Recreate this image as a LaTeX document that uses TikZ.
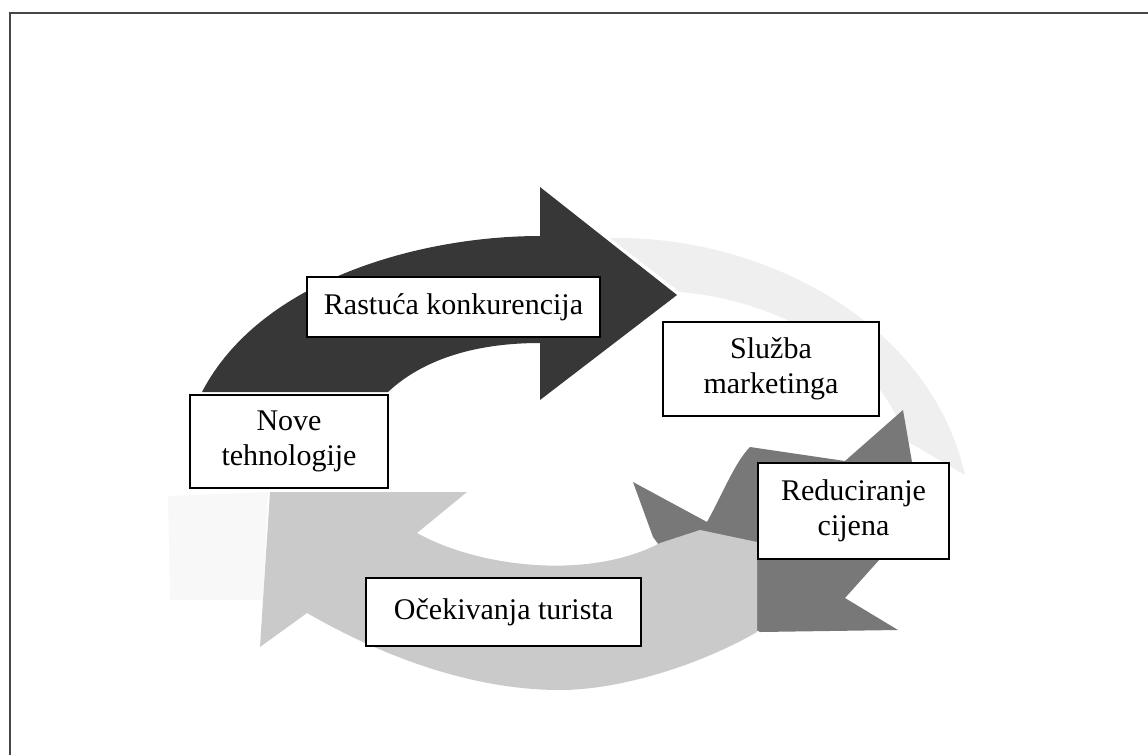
\documentclass[tikz,border=0pt]{standalone}
\usepackage{fontspec}
\setmainfont{Liberation Serif}
\usetikzlibrary{positioning}
\definecolor{arrowdark}{RGB}{55,55,55}
\definecolor{arrowmid}{RGB}{120,120,120}
\definecolor{arrowlight}{RGB}{202,202,202}
\definecolor{arrowfaint}{RGB}{239,239,239}
\definecolor{framegray}{RGB}{70,70,70}

\begin{document}
\begin{tikzpicture}[x=0.4pt, y=-0.4pt,
  box/.style={rectangle, draw=black, line width=0.6pt, fill=white, align=center,
              inner sep=1pt, font=\fontsize{12}{14}\selectfont}]
\useasboundingbox (0,0) rectangle (1148,755);
\draw[framegray, line width=0.8pt] (10,755) -- (10,13) -- (1148,13);

% faint arrow, top right
\fill[arrowfaint] (610,238) .. controls (760,235) and (930,320) .. (965,475)
  -- (905,440) .. controls (885,360) and (780,300) .. (680,292) -- cycle;
\fill[arrowfaint!45] (168,496) -- (268,492) -- (263,600) -- (170,600) -- cycle;

% medium arrow, right
\fill[arrowmid] (633,482) -- (707,522) .. controls (722,495) and (735,462) .. (750,447)
  -- (845,461) -- (903,410) -- (912,462) -- (915,510) -- (880,559) -- (845,598)
  -- (898,630) -- (760,632) -- (700,600) -- (653,537) -- cycle;

% light arrow, bottom
\fill[arrowlight] (270,492) -- (467,492) -- (417,533)
  .. controls (480,568) and (590,580) .. (660,543) -- (700,530) -- (757,542) -- (757,632)
  .. controls (700,665) and (620,690) .. (560,690)
  .. controls (470,690) and (380,655) .. (307,613)
  -- (260,647) -- cycle;

% dark arrow, top
\fill[arrowdark] (202,392) .. controls (260,280) and (420,236) .. (540,236)
  -- (540,187) -- (677,295) -- (540,400) -- (540,343)
  .. controls (470,343) and (420,362) .. (388,392) -- cycle;

\node[box, minimum width=117.2pt, minimum height=24pt] (rast) at (453.5,307) {Rastuća konkurencija};
\node[box, minimum width=86.4pt, minimum height=37.6pt] (sluzba) at (771,369) {Služba\\marketinga};
\node[box, minimum width=79.2pt, minimum height=37.2pt] (nove) at (289,441.5) {Nove\\tehnologije};
\node[box, minimum width=76.4pt, minimum height=38.4pt] (redu) at (853.5,511) {Reduciranje\\cijena};
\node[box, minimum width=110pt, minimum height=27.2pt] (ocek) at (503.5,612) {Očekivanja turista};
\end{tikzpicture}
\end{document}
